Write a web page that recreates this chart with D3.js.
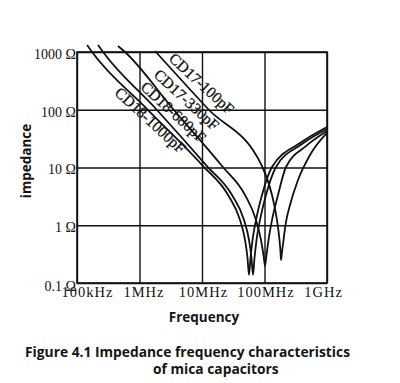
<!DOCTYPE html>
<html><head><meta charset="utf-8">
<script src="https://cdn.jsdelivr.net/npm/d3@7"></script>
<style>
html,body{margin:0;padding:0;background:#fff;}
svg{display:block;}
</style></head>
<body>
<svg id="chart" width="400" height="383"></svg>
<script>
// ---- data (frequency in MHz, impedance in ohms) ----
const freqTicks = [0.1, 1, 10, 100, 1000];
const freqTickLabels = ["100kHz", "1MHz", "10MHz", "100MHz", "1GHz"];
const zTicks = [1000, 100, 10, 1, 0.1];
const zTickLabels = ["1000 Ω", "100 Ω", "10 Ω", "1 Ω", "0.1 Ω"];

const seriesNames = ["CD17-100pF", "CD17-330pF", "CD18-680pF", "CD18-1000pF"];

const f100  = [1.77, 12.5, 91.2, 131.8, 158.5, 173.8, 180.3, 183.7, 190.5, 201.4, 220.8, 255.9, 343.6, 535, 1000];
const z100  = [1041, 103, 10.6, 3.34, 1.23, 0.555, 0.344, 0.25, 0.344, 0.555, 1.14, 2.24, 6.08, 16.5, 39.6];

const f330  = [0.453, 0.586, 3.44, 20.9, 48.8, 73.1, 87.9, 96.4, 101.9, 107.6, 115.9, 131.8, 164.4, 220.8, 461, 1000];
const z330  = [1270, 1000, 103, 10.6, 3.34, 1.23, 0.555, 0.305, 0.197, 0.305, 0.555, 1.23, 3.34, 10.2, 23.5, 42.9];

const f680  = [0.217, 0.261, 1.84, 12.0, 30.2, 47.0, 56.5, 61.9, 65.5, 69.2, 74.5, 84.7, 105.7, 152.8, 398, 1000];
const z680  = [1320, 1000, 103, 10.6, 3.34, 1.23, 0.555, 0.271, 0.138, 0.271, 0.555, 1.23, 3.34, 10.2, 25.5, 46.4];

const f1000 = [0.145, 0.174, 1.32, 10.4, 26.1, 40.6, 48.8, 53.5, 56.5, 59.7, 64.3, 73.1, 91.2, 131.8, 370, 1000];
const z1000 = [1320, 1000, 103, 10.6, 3.34, 1.23, 0.555, 0.271, 0.138, 0.271, 0.555, 1.23, 3.34, 10.2, 26.5, 50.3];

// label anchor points (centre of each rotated label) in data units
const labelFreq = [9.9, 5.7, 3.5, 1.5];
const labelZ    = [285, 150, 92, 66];

const title1 = "Figure 4.1 Impedance frequency characteristics";
const title2 = "of mica capacitors";
const xTitle = "Frequency";
const yTitle = "impedance";

// ---- drawing ----
(function () {
const svg = d3.select("#chart");
const mLeft = 77, mRight = 327, mTop = 52, mBottom = 283;

const x = d3.scaleLog().domain([0.1, 1000]).range([mLeft, mRight]);
const y = d3.scaleLog().domain([0.1, 1000]).range([mBottom, mTop]);

const ink = "#111";
const serif = "'Liberation Serif','DejaVu Serif',serif";
const sans = "'Open Sans','Noto Sans',sans-serif";

// grid via axes
const gx = svg.append("g").attr("transform", `translate(0,${mBottom})`)
  .call(d3.axisBottom(x).tickValues(freqTicks)
    .tickFormat((d, i) => freqTickLabels[i])
    .tickSize(-(mBottom - mTop)).tickPadding(3));
gx.select(".domain").remove();
gx.selectAll(".tick line").attr("stroke", ink).attr("stroke-width", 1.4);
gx.selectAll(".tick text")
  .attr("fill", ink)
  .style("font-family", serif).style("font-size", "14.5px")
  .style("letter-spacing", "1px")
  .attr("y", 3.5)
  .attr("dx", (d, i) => i === 0 ? 10 : (i === 4 ? -4 : (i === 1 ? 4 : 1)));

const gy = svg.append("g").attr("transform", `translate(${mLeft},0)`)
  .call(d3.axisLeft(y).tickValues(zTicks)
    .tickFormat((d, i) => zTickLabels[i])
    .tickSize(-(mRight - mLeft)).tickPadding(1));
gy.select(".domain").remove();
gy.selectAll(".tick line").attr("stroke", ink).attr("stroke-width", 1.4);
gy.selectAll(".tick text")
  .attr("fill", ink)
  .style("font-family", serif).style("font-size", "14px")
  .attr("dy", (d, i) => i === 4 ? "0.5em" : "0.45em");

// frame
svg.append("rect").attr("x", mLeft).attr("y", mTop)
  .attr("width", mRight - mLeft).attr("height", mBottom - mTop)
  .attr("fill", "none").attr("stroke", ink).attr("stroke-width", 1.6);

// curves
const seriesF = [f100, f330, f680, f1000];
const seriesZ = [z100, z330, z680, z1000];
const line = d3.line().x(d => x(d[0])).y(d => y(d[1])).curve(d3.curveMonotoneX);
seriesNames.forEach((name, i) => {
  const pts = seriesF[i].map((f, j) => [f, seriesZ[i][j]]);
  svg.append("path").datum(pts)
    .attr("d", line)
    .attr("fill", "none").attr("stroke", ink)
    .attr("stroke-width", 1.8).attr("stroke-linejoin", "round");
});

// series labels
seriesNames.forEach((name, i) => {
  const cx = x(labelFreq[i]), cy = y(labelZ[i]);
  svg.append("text")
    .attr("transform", `translate(${cx},${cy}) rotate(42.5)`)
    .attr("text-anchor", "middle").attr("dy", "0.35em")
    .style("font-family", serif).style("font-size", "15.5px")
    .attr("fill", ink).attr("stroke", ink).attr("stroke-width", 0.3)
    .text(name);
});

// axis titles
svg.append("text").attr("x", (mLeft + mRight) / 2 + 2).attr("y", 322)
  .attr("text-anchor", "middle")
  .style("font-family", sans).style("font-weight", "bold").style("font-size", "13.5px")
  .attr("fill", "#151515").text(xTitle);

svg.append("text").attr("transform", "translate(31,161) rotate(-90)")
  .attr("text-anchor", "middle")
  .style("font-family", sans).style("font-weight", "bold").style("font-size", "13.5px")
  .attr("fill", "#151515").text(yTitle);

// caption
svg.append("text").attr("x", 25).attr("y", 357)
  .style("font-family", sans).style("font-weight", "bold").style("font-size", "13.8px")
  .attr("fill", "#151515").text(title1);
svg.append("text").attr("x", 153).attr("y", 374)
  .style("font-family", sans).style("font-weight", "bold").style("font-size", "13.8px")
  .attr("fill", "#151515").text(title2);
})();
</script>
</body></html>
